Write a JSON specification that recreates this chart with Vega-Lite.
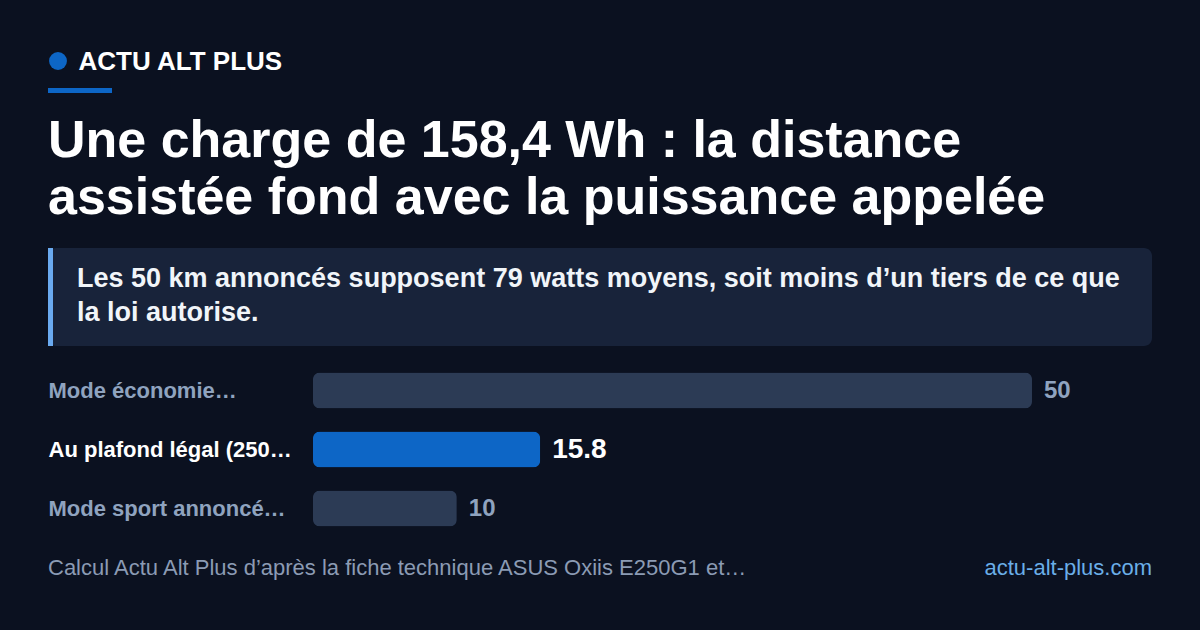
{
  "$schema": "https://vega.github.io/schema/vega-lite/v6.json",
  "background": "#0b1120",
  "padding": {"left": 48, "right": 48, "top": 48, "bottom": 46.5},
  "autosize": {"type": "pad"},
  "config": {
    "font": "Liberation Sans",
    "view": {"stroke": null},
    "axis": {"grid": false, "domain": false, "ticks": false, "tickSize": 0, "minExtent": 0}
  },
  "spacing": 21,
  "vconcat": [
    {
      "spacing": 14,
      "vconcat": [
        {
          "width": 20,
          "height": 26,
          "data": {"values": [{"brand": "ACTU ALT PLUS"}]},
          "mark": {"type": "point", "shape": "circle", "filled": true, "size": 320, "color": "#0d66c6", "opacity": 1},
          "encoding": {
            "y": {
              "field": "brand", "type": "nominal", "title": null,
              "axis": {"orient": "right", "labelPadding": 10, "labelFont": "Liberation Sans", "labelFontSize": 26, "labelFontWeight": "bold", "labelColor": "#ffffff", "labelLimit": 0}
            }
          }
        },
        {
          "width": 64,
          "height": 5,
          "data": {"values": [{"part": "underline"}]},
          "mark": {"type": "bar", "color": "#0d66c6"},
          "encoding": {}
        }
      ]
    },
    {
      "spacing": 12,
      "vconcat": [
        {
          "width": 1104,
          "height": 98,
          "title": {
            "text": ["Une charge de 158,4 Wh : la distance", "assistée fond avec la puissance appelée"],
            "anchor": "start", "font": "Liberation Sans", "fontSize": 52, "fontWeight": "bold",
            "color": "#ffffff", "lineHeight": 57, "offset": 21
          },
          "view": {"fill": "#18233a", "cornerRadius": 8, "stroke": null},
          "layer": [
            {
              "data": {"values": [{"part": "accent"}]},
              "mark": {"type": "rule", "color": "#6aaaf0", "strokeWidth": 5, "strokeCap": "butt", "xOffset": 2.5},
              "encoding": {"x": {"datum": 0, "type": "quantitative", "scale": {"domain": [0, 1]}, "axis": null}}
            },
            {
              "data": {"values": [{"lines": ["Les 50 km annoncés supposent 79 watts moyens, soit moins d’un tiers de ce que", "la loi autorise."]}]},
              "mark": {"type": "text", "align": "left", "baseline": "middle", "dx": 29, "dy": -18, "font": "Liberation Sans", "fontSize": 27, "fontWeight": "bold", "color": "#f1f5f9", "lineHeight": 34},
              "encoding": {
                "x": {"datum": 0, "type": "quantitative", "scale": {"domain": [0, 1]}, "axis": null},
                "text": {"field": "lines"}
              }
            }
          ]
        },
        {
          "width": 1104,
          "height": 177,
          "data": {"values": [
            {"mode": "Mode économie…", "km": 50, "highlight": false},
            {"mode": "Au plafond légal (250…", "km": 15.8, "highlight": true},
            {"mode": "Mode sport annoncé…", "km": 10, "highlight": false}
          ]},
          "encoding": {
            "y": {
              "field": "mode", "type": "nominal", "sort": null, "title": null,
              "scale": {"paddingInner": 0, "paddingOuter": 0},
              "axis": {
                "orient": "left", "labelAlign": "left", "labelPadding": 0, "labelBaseline": "middle",
                "labelFont": "Liberation Sans", "labelFontSize": 22, "labelFontWeight": "bold", "labelLimit": 0,
                "labelColor": {"condition": {"test": "datum.value === 'Au plafond légal (250…'", "value": "#ffffff"}, "value": "#8fa3bf"}
              }
            },
            "x": {"field": "km", "type": "quantitative", "scale": {"domain": [-18.428, 58.345], "nice": false, "zero": false}, "axis": null}
          },
          "layer": [
            {
              "mark": {"type": "bar", "height": 36, "cornerRadius": 7},
              "encoding": {
                "color": {"condition": {"test": "datum.highlight", "value": "#0d66c6"}, "value": "#2c3b55"}
              }
            },
            {
              "mark": {"type": "text", "align": "left", "baseline": "middle", "dx": 12, "font": "Liberation Sans", "fontWeight": "bold"},
              "encoding": {
                "text": {"field": "km", "type": "quantitative"},
                "size": {"condition": {"test": "datum.highlight", "value": 28}, "value": 24},
                "color": {"condition": {"test": "datum.highlight", "value": "#ffffff"}, "value": "#8fa3bf"}
              }
            }
          ]
        },
        {
          "width": 1104,
          "height": 36,
          "layer": [
            {
              "data": {"values": [{"note": "Calcul Actu Alt Plus d’après la fiche technique ASUS Oxiis E250G1 et…"}]},
              "mark": {"type": "text", "align": "left", "baseline": "middle", "font": "Liberation Sans", "fontSize": 22, "color": "#8b9bb4"},
              "encoding": {
                "x": {"datum": 0, "type": "quantitative", "scale": {"domain": [0, 1]}, "axis": null},
                "text": {"field": "note"}
              }
            },
            {
              "data": {"values": [{"site": "actu-alt-plus.com"}]},
              "mark": {"type": "text", "align": "right", "baseline": "middle", "font": "Liberation Sans", "fontSize": 22, "color": "#6aaee8"},
              "encoding": {
                "x": {"datum": 1, "type": "quantitative", "scale": {"domain": [0, 1]}, "axis": null},
                "text": {"field": "site"}
              }
            }
          ]
        }
      ]
    }
  ]
}
